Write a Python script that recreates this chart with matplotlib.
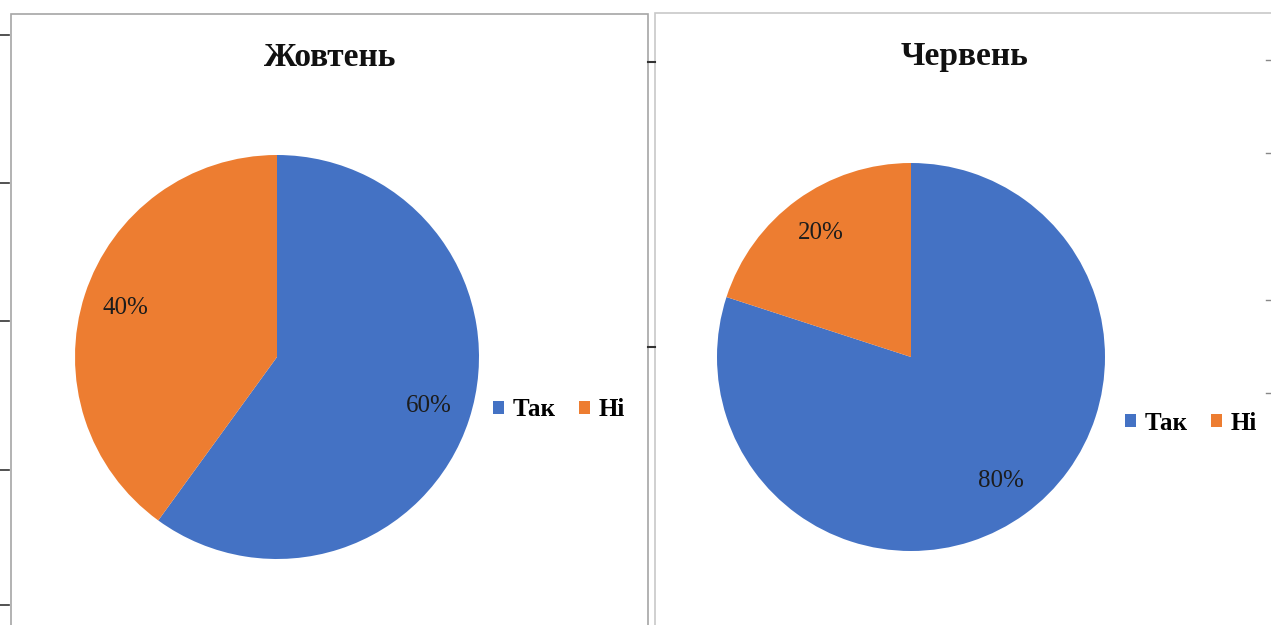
"""Two Excel-style pie charts (Жовтень / Червень) side by side."""

import matplotlib

matplotlib.use("Agg")

import matplotlib.pyplot as plt
from matplotlib.lines import Line2D
from matplotlib.patches import Rectangle

# data
categories = ["Так", "Ні"]
october = [60, 40]
june = [80, 20]
titles = ["Жовтень", "Червень"]

BLUE = "#4472C4"
ORANGE = "#ED7D31"
EDGE = "#a6a6a6"
W, H = 1271, 625

plt.rcParams["font.family"] = ["Liberation Serif", "DejaVu Serif"]


def fx(px):
    return px / W


def fy(py):
    return 1 - py / H


def draw_pie(fig, values, title, cx, cy, r, title_xy, legend_xy):
    """Place one pie with its centre at pixel (cx, cy) and radius r."""
    ax = fig.add_axes([fx(cx - r), fy(cy + r), 2 * r / W, 2 * r / H])
    wedges, _, autotexts = ax.pie(
        values,
        colors=[BLUE, ORANGE],
        startangle=90,
        counterclock=False,
        radius=1.0,
        autopct="%d%%",
        pctdistance=0.79,
        wedgeprops=dict(linewidth=0),
        textprops=dict(fontsize=18, color="#1c1c1c"),
    )
    ax.set_xlim(-1, 1)
    ax.set_ylim(-1, 1)
    ax.set_aspect("equal")
    ax.axis("off")
    fig.text(fx(title_xy[0]), fy(title_xy[1]), title, ha="center", va="center",
             fontsize=24, fontweight="bold", color="#111")
    fig.legend(wedges, categories, loc="center left",
               bbox_to_anchor=(fx(legend_xy[0]), fy(legend_xy[1])),
               bbox_transform=fig.transFigure, ncol=2, frameon=False,
               prop=dict(size=18, weight="bold"),
               handlelength=0.45, handleheight=0.45,
               handletextpad=0.35, columnspacing=0.9, borderpad=0,
               borderaxespad=0)


fig = plt.figure(figsize=(W / 100, H / 100), dpi=100)

# panel frames
fig.patches.append(Rectangle((fx(11), fy(640)), fx(648) - fx(11), fy(14) - fy(640),
                             transform=fig.transFigure, fill=False,
                             edgecolor=EDGE, linewidth=1.2))
fig.patches.append(Rectangle((fx(655), fy(640)), fx(1290) - fx(655), fy(13) - fy(640),
                             transform=fig.transFigure, fill=False,
                             edgecolor="#c8c8c8", linewidth=1.2))

# little tick marks peeking in at the edges
for y in [35, 183, 321, 470, 605]:
    fig.add_artist(Line2D([fx(0), fx(9)], [fy(y), fy(y)], color="#333",
                          linewidth=1.2, transform=fig.transFigure))
for y in [62, 347]:
    fig.add_artist(Line2D([fx(648), fx(655)], [fy(y), fy(y)], color="#333",
                          linewidth=1.5, transform=fig.transFigure))
for y in [60, 153, 300, 393]:
    fig.add_artist(Line2D([fx(1266), fx(1271)], [fy(y), fy(y)], color="#888",
                          linewidth=1.0, transform=fig.transFigure))

draw_pie(fig, october, titles[0], 277, 357, 202, (330, 57), (493, 410))
draw_pie(fig, june, titles[1], 911, 357, 194, (965, 57), (1125, 423))

fig.savefig("out.png", dpi=100, facecolor="white")
